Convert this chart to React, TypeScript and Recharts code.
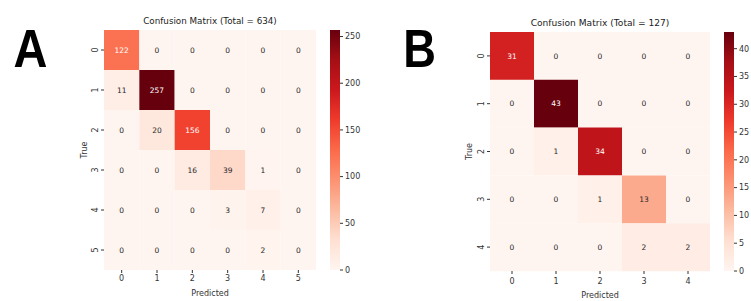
import { BarChart, Bar, XAxis, YAxis, Cell, LabelList } from "recharts";

const classesA = ["0", "1", "2", "3", "4", "5"];
const countsA = [
  [122, 0, 0, 0, 0, 0],
  [11, 257, 0, 0, 0, 0],
  [0, 20, 156, 0, 0, 0],
  [0, 0, 16, 39, 1, 0],
  [0, 0, 0, 3, 7, 0],
  [0, 0, 0, 0, 2, 0],
];
const colorbarTicksA = [0, 50, 100, 150, 200, 250];

const classesB = ["0", "1", "2", "3", "4"];
const countsB = [
  [31, 0, 0, 0, 0],
  [0, 43, 0, 0, 0],
  [0, 1, 34, 0, 0],
  [0, 0, 1, 13, 0],
  [0, 0, 0, 2, 2],
];
const colorbarTicksB = [0, 5, 10, 15, 20, 25, 30, 35, 40];

// matplotlib "Reds"
const REDS = ["#fff5f0", "#fee0d2", "#fcbba1", "#fc9272", "#fb6a4a", "#ef3b2c", "#cb181d", "#a50f15", "#67000d"];
const FONT = "'DejaVu Sans', sans-serif";
const INK = "#333";

const hexRgb = (h: string) => [1, 3, 5].map((i) => parseInt(h.slice(i, i + 2), 16));

function reds(t: number): number[] {
  const p = Math.max(0, Math.min(1, t)) * (REDS.length - 1);
  const i = Math.min(Math.floor(p), REDS.length - 2);
  const f = p - i;
  const a = hexRgb(REDS[i]);
  const b = hexRgb(REDS[i + 1]);
  return a.map((v, k) => Math.round(v + (b[k] - v) * f));
}
const rgbStr = (c: number[]) => `rgb(${c[0]},${c[1]},${c[2]})`;

// seaborn picks white text on dark cells
function textColor(c: number[]) {
  const lin = c.map((v) => {
    const s = v / 255;
    return s <= 0.03928 ? s / 12.92 : Math.pow((s + 0.055) / 1.055, 2.4);
  });
  const lum = 0.2126 * lin[0] + 0.7152 * lin[1] + 0.0722 * lin[2];
  return lum > 0.408 ? "#262626" : "#ffffff";
}

type PanelProps = {
  id: string;
  classes: string[];
  counts: number[][];
  cbTicks: number[];
  left: number;
  width: number;
  mLeft: number;
  mRight: number;
  top: number;
  xAxisH: number;
  tickMarginX: number;
  trueOffset: number;
  predOffset: number;
  cbLeft: number;
  cbWidth: number;
  cbAxisW: number;
};

function RotTick(props: any) {
  const { x, y, payload } = props;
  return (
    <text x={x} y={y} transform={`rotate(-90 ${x} ${y})`} textAnchor="middle" fontSize={8} fontFamily={FONT} fill={INK}>
      {payload.value}
    </text>
  );
}

function Heatmap(p: PanelProps) {
  const max = Math.max(...p.counts.flat());
  const rows = p.classes.map((r) => {
    const row: Record<string, any> = { row: r };
    p.classes.forEach((_, j) => (row[`c${j}`] = 1));
    return row;
  });
  const xTicks = p.classes.map((_, j) => j + 0.5);
  const cbData = [{ k: "cb", v: max }];
  const stops = REDS.map((c, i) => ({ off: i / (REDS.length - 1), c }));

  return (
    <>
      <div style={{ position: "absolute", left: p.left, top: 0 }}>
        <BarChart
          width={p.width}
          height={301}
          data={rows}
          layout="vertical"
          barCategoryGap={0}
          margin={{ top: p.top, right: p.mRight, bottom: 0, left: p.mLeft }}
        >
          <XAxis
            type="number"
            domain={[0, p.classes.length]}
            ticks={xTicks}
            tickFormatter={(v: number) => p.classes[Math.floor(v)]}
            height={p.xAxisH}
            axisLine={false}
            tickSize={3}
            tickMargin={p.tickMarginX}
            tickLine={{ stroke: INK }}
            tick={{ fontSize: 8, fontFamily: FONT, fill: INK }}
            label={{ value: "Predicted", position: "insideBottom", offset: p.predOffset, fontSize: 8, fontFamily: FONT, fill: INK }}
          />
          <YAxis
            type="category"
            dataKey="row"
            width={34}
            axisLine={false}
            tickSize={3}
            tickMargin={3}
            tickLine={{ stroke: INK }}
            tick={<RotTick />}
            label={{
              value: "True",
              angle: -90,
              position: "insideLeft",
              offset: p.trueOffset,
              fontSize: 8,
              fontFamily: FONT,
              fill: INK,
              style: { textAnchor: "middle" },
            }}
          />
          {p.classes.map((_, j) => (
            <Bar key={j} dataKey={`c${j}`} stackId="m" isAnimationActive={false}>
              {p.counts.map((r, i) => (
                <Cell key={i} fill={rgbStr(reds(r[j] / max))} />
              ))}
              <LabelList
                dataKey={`c${j}`}
                content={(lp: any) => {
                  const { x, y, width, height, index } = lp;
                  const v = p.counts[index][j];
                  return (
                    <text
                      x={Number(x) + Number(width) / 2}
                      y={Number(y) + Number(height) / 2}
                      textAnchor="middle"
                      dominantBaseline="central"
                      fontSize={7.5}
                      fontFamily={FONT}
                      fill={textColor(reds(v / max))}
                    >
                      {v}
                    </text>
                  );
                }}
              />
            </Bar>
          ))}
        </BarChart>
      </div>
      <div style={{ position: "absolute", left: p.cbLeft, top: 0 }}>
        <BarChart
          width={p.cbWidth}
          height={301}
          data={cbData}
          barCategoryGap={0}
          margin={{ top: p.top, right: 0, bottom: p.xAxisH, left: 10 }}
        >
          <defs>
            <linearGradient id={`grad${p.id}`} x1="0" y1="1" x2="0" y2="0">
              {stops.map((s, i) => (
                <stop key={i} offset={s.off} stopColor={s.c} />
              ))}
            </linearGradient>
          </defs>
          <XAxis dataKey="k" hide />
          <YAxis
            orientation="right"
            type="number"
            domain={[0, max]}
            ticks={p.cbTicks}
            width={p.cbAxisW}
            axisLine={false}
            tickSize={3}
            tickMargin={2}
            tickLine={{ stroke: INK }}
            tick={{ fontSize: 8, fontFamily: FONT, fill: INK }}
          />
          <Bar dataKey="v" fill={`url(#grad${p.id})`} isAnimationActive={false} />
        </BarChart>
      </div>
    </>
  );
}

const sum = (m: number[][]) => m.flat().reduce((a, b) => a + b, 0);

export default function App() {
  return (
    <div style={{ position: "fixed", left: 0, top: 0, width: 751, height: 301, background: "#fff", overflow: "hidden" }}>
      <Heatmap
        id="A"
        classes={classesA}
        counts={countsA}
        cbTicks={colorbarTicksA}
        left={0}
        width={320}
        mLeft={70}
        mRight={4}
        top={30}
        xAxisH={31}
        tickMarginX={2}
        trueOffset={14.5}
        predOffset={5}
        cbLeft={320}
        cbWidth={60}
        cbAxisW={40}
      />
      <Heatmap
        id="B"
        classes={classesB}
        counts={countsB}
        cbTicks={colorbarTicksB}
        left={380}
        width={340}
        mLeft={76}
        mRight={10}
        top={32}
        xAxisH={30}
        tickMarginX={4}
        trueOffset={13}
        predOffset={3.5}
        cbLeft={714}
        cbWidth={37}
        cbAxisW={17}
      />
      <svg width={751} height={301} style={{ position: "absolute", left: 0, top: 0, pointerEvents: "none" }}>
        <text x={210} y={24} textAnchor="middle" fontSize={8.75} fontFamily={FONT} fill="#222">
          {`Confusion Matrix (Total = ${sum(countsA)})`}
        </text>
        <text x={600} y={26} textAnchor="middle" fontSize={9.1} fontFamily={FONT} fill="#222">
          {`Confusion Matrix (Total = ${sum(countsB)})`}
        </text>
        <text transform="translate(30.5 67) scale(0.87 1)" textAnchor="middle" fontSize={54} fontWeight="bold" fontFamily="'Liberation Sans', Arial, sans-serif" fill="#000">
          A
        </text>
        <text transform="translate(419.5 67) scale(0.84 1)" textAnchor="middle" fontSize={54} fontWeight="bold" fontFamily="'Liberation Sans', Arial, sans-serif" fill="#000">
          B
        </text>
      </svg>
    </div>
  );
}
